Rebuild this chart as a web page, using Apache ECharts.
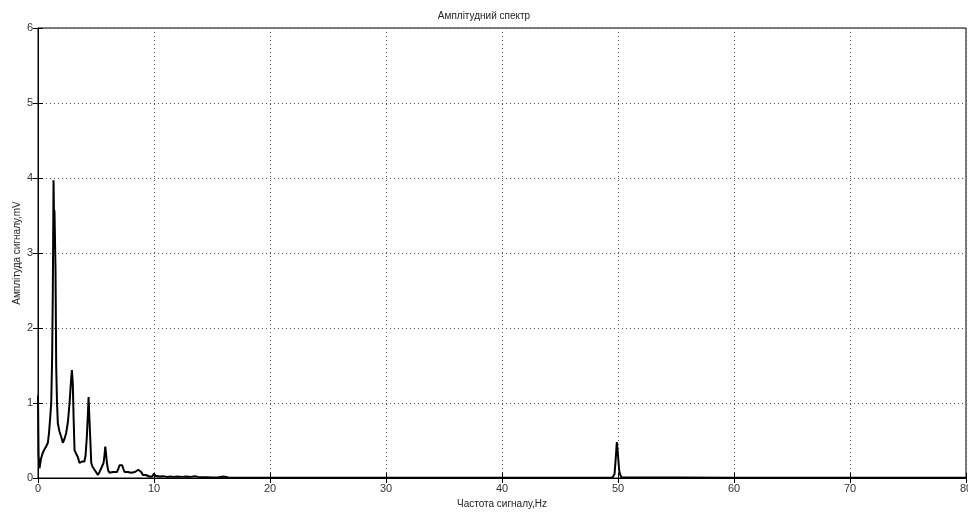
<!DOCTYPE html>
<html>
<head>
<meta charset="utf-8">
<script src="https://cdn.jsdelivr.net/npm/echarts@6/dist/echarts.min.js"></script>
<style>html,body{margin:0;padding:0;background:#fff;}#c{width:968px;height:512px;}</style>
</head>
<body>
<div id="c"></div>
<script>
var titleText = 'Амплітудний спектр';
var xName = 'Частота сигналу,Hz';
var yName = 'Амплітуда сигналу,mV';
var xTicks = [0, 10, 20, 30, 40, 50, 60, 70, 80];
var yTicks = [0, 1, 2, 3, 4, 5, 6];

var freqs = [0, 0.05, 0.13, 0.25, 0.4, 0.55, 0.7, 0.85, 0.95, 1.05, 1.14, 1.22, 1.28, 1.34, 1.38, 1.42, 1.51, 1.57, 1.64, 1.71, 1.85, 2.0, 2.14, 2.28, 2.43, 2.58, 2.72, 2.85, 2.92, 3.0, 3.07, 3.15, 3.3, 3.43, 3.58, 3.8, 4.0, 4.1, 4.21, 4.3, 4.36, 4.43, 4.5, 4.59, 4.7, 4.87, 5.0, 5.16, 5.3, 5.45, 5.65, 5.73, 5.8, 5.87, 5.94, 6.05, 6.17, 6.3, 6.45, 6.6, 6.8, 6.92, 7.03, 7.15, 7.26, 7.36, 7.46, 7.6, 7.75, 7.9, 8.05, 8.2, 8.35, 8.5, 8.65, 8.76, 8.9, 9.04, 9.3, 9.6, 9.85, 10.0, 10.1, 10.25, 10.5, 10.8, 11.1, 11.4, 11.7, 12.0, 12.4, 12.8, 13.2, 13.5, 13.8, 14.2, 14.6, 15.0, 15.5, 16.0, 16.4, 17, 20, 30, 40, 49.5, 49.6, 49.7, 49.8, 49.9, 50.0, 50.1, 50.2, 50.3, 50.4, 60, 70, 80];
var amps = [1.1, 0.3, 0.13, 0.25, 0.33, 0.38, 0.42, 0.47, 0.6, 0.8, 1.0, 1.62, 2.55, 3.97, 3.5, 3.57, 2.77, 1.48, 1.0, 0.73, 0.62, 0.55, 0.47, 0.52, 0.6, 0.75, 1.0, 1.3, 1.44, 1.26, 0.8, 0.37, 0.32, 0.28, 0.2, 0.22, 0.22, 0.3, 0.55, 0.85, 1.08, 0.8, 0.55, 0.2, 0.15, 0.13, 0.08, 0.04, 0.08, 0.13, 0.2, 0.3, 0.42, 0.32, 0.2, 0.1, 0.07, 0.06, 0.08, 0.06, 0.08, 0.12, 0.17, 0.15, 0.17, 0.12, 0.08, 0.1, 0.08, 0.09, 0.07, 0.09, 0.08, 0.1, 0.11, 0.13, 0.08, 0.04, 0.04, 0.02, 0.02, 0.06, 0.03, 0.04, 0.02, 0.025, 0.015, 0.02, 0.015, 0.02, 0.015, 0.02, 0.015, 0.025, 0.015, 0.01, 0.01, 0.008, 0.008, 0.02, 0.006, 0.005, 0.004, 0.003, 0.003, 0.004, 0.01, 0.05, 0.25, 0.48, 0.3, 0.1, 0.04, 0.01, 0.004, 0.003, 0.003, 0.003];

var points = freqs.map(function (f, i) { return [f, amps[i]]; });
var font = 'Liberation Sans, Arial, sans-serif';
var lblColor = '#333';

var chart = echarts.init(document.getElementById('c'), null, {renderer: 'canvas'});
chart.setOption({
  animation: false,
  backgroundColor: '#fff',
  title: {
    text: titleText, left: 'center', top: 6,
    textStyle: {fontFamily: font, fontSize: 10, fontWeight: 'normal', color: '#222'}
  },
  grid: {left: 38, right: 2, top: 28, bottom: 34, show: true, borderColor: '#000', borderWidth: 1,
    containLabel: false, outerBoundsMode: 'none'},
  xAxis: [{
    type: 'value', min: 0, max: 80, interval: 10,
    name: xName, nameLocation: 'middle', nameGap: 20,
    nameTextStyle: {fontFamily: font, fontSize: 10, color: '#222'},
    axisLine: {onZero: false, lineStyle: {color: '#000', width: 1}},
    axisTick: {inside: true, length: 5, lineStyle: {color: '#000'}},
    axisLabel: {fontFamily: font, fontSize: 11, color: lblColor, margin: 5,
      formatter: function (v) { return xTicks.indexOf(v) >= 0 ? String(v) : ''; }},
    splitLine: {show: true, lineStyle: {color: '#555', type: [1, 3], width: 1}}
  }, {
    type: 'value', min: 0, max: 80, interval: 10, position: 'top',
    axisLine: {show: false},
    axisTick: {inside: true, length: 5, lineStyle: {color: '#000'}},
    axisLabel: {show: false}, splitLine: {show: false}
  }],
  yAxis: [{
    type: 'value', min: 0, max: 6, interval: 1,
    name: yName, nameLocation: 'middle', nameGap: 16, nameRotate: 90, nameMoveOverlap: false,
    nameTextStyle: {fontFamily: font, fontSize: 10, color: '#222'},
    axisLine: {show: true, onZero: false, lineStyle: {color: '#000', width: 1}},
    axisTick: {show: true, inside: true, length: 5, lineStyle: {color: '#000'}},
    axisLabel: {fontFamily: font, fontSize: 11, color: lblColor, margin: 5,
      formatter: function (v) { return yTicks.indexOf(v) >= 0 ? String(v) : ''; }},
    splitLine: {show: true, lineStyle: {color: '#555', type: [1, 3], width: 1}}
  }, {
    type: 'value', min: 0, max: 6, interval: 1, position: 'right',
    axisLine: {show: false},
    axisTick: {show: true, inside: true, length: 5, lineStyle: {color: '#000'}},
    axisLabel: {show: false}, splitLine: {show: false}
  }],
  series: [{
    type: 'line', data: points, xAxisIndex: 0, yAxisIndex: 0,
    showSymbol: false, symbol: 'none',
    lineStyle: {color: '#000', width: 2},
    silent: true
  }]
});
</script>
</body>
</html>
